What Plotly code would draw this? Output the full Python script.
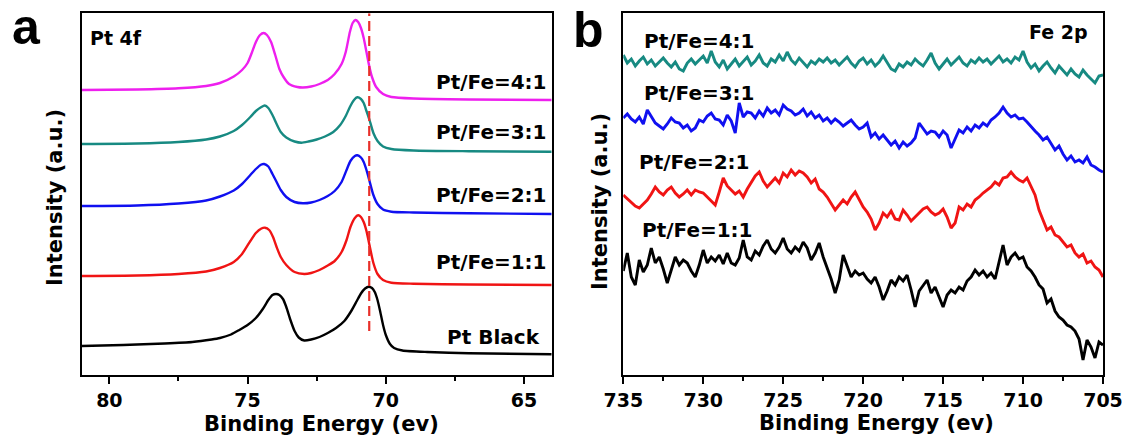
import plotly.graph_objects as go

W, H = 1127, 440

# ---------------- Panel a: Pt 4f spectra (binding energy in eV, stacked intensity in a.u.)
PT44_EV = [81.0, 79.0, 77.5, 76.5, 76.0, 75.5, 75.2, 75.0, 74.85, 74.7, 74.55, 74.42, 74.3, 74.15, 74.0,
           73.85, 73.7, 73.5, 73.2, 73.0, 72.7, 72.4, 72.1, 71.85, 71.6, 71.45, 71.3, 71.2, 71.1, 71.0,
           70.9, 70.8, 70.7, 70.6, 70.5, 70.35, 70.1, 69.8, 69.0, 67.0, 64.0]
PT44_I = [285, 285.5, 286.7, 289, 292, 298.5, 305, 312, 322, 333, 340, 342, 340, 333, 320,
          306, 298, 291, 288, 287.5, 288.5, 291, 295, 301, 311, 323, 343, 352, 355, 353,
          347, 337, 323, 309, 298, 288, 281, 278, 276.5, 275.5, 275]

PT31_EV = [81.0, 79.0, 77.5, 76.5, 76.0, 75.5, 75.2, 74.9, 74.7, 74.5, 74.38, 74.25, 74.1, 73.95, 73.8,
           73.6, 73.3, 73.05, 72.8, 72.5, 72.2, 71.9, 71.65, 71.45, 71.3, 71.15, 71.03, 70.9, 70.8, 70.7,
           70.6, 70.45, 70.3, 70.1, 69.8, 69.0, 67.0, 64.0]
PT31_I = [231, 231.5, 233, 235.5, 238.5, 244, 250, 258, 264, 268, 269.5, 267, 260, 251, 243,
          237.5, 233.5, 232.3, 233.5, 235.5, 238.5, 243, 250, 259, 268, 275, 277.7, 276, 272, 264,
          256, 242, 234, 228.5, 226, 224.5, 223.8, 223.3]

PT21_EV = [81.0, 79.0, 77.5, 76.5, 76.0, 75.5, 75.2, 74.9, 74.7, 74.5, 74.4, 74.25, 74.1, 73.95, 73.8,
           73.6, 73.3, 73.0, 72.7, 72.4, 72.1, 71.85, 71.6, 71.42, 71.28, 71.12, 71.03, 70.9, 70.8, 70.7,
           70.6, 70.45, 70.3, 70.1, 69.8, 69.0, 67.0, 64.0]
PT21_I = [169, 169.5, 171.5, 174.5, 178.5, 184.5, 191, 200, 206, 210.5, 211, 208.5, 201, 193, 185,
          178, 173, 171.7, 172.5, 175, 179, 184, 193, 205, 214, 219, 219.7, 217.5, 213, 205,
          195, 180, 171, 165.5, 163.3, 162.5, 161.7, 161]

PT11_EV = [81.0, 79.0, 77.5, 76.5, 76.0, 75.5, 75.2, 74.9, 74.7, 74.5, 74.37, 74.22, 74.08, 73.95, 73.8,
           73.6, 73.3, 72.95, 72.7, 72.4, 72.1, 71.85, 71.6, 71.42, 71.28, 71.12, 71.0, 70.9, 70.8, 70.7,
           70.6, 70.45, 70.3, 70.1, 69.8, 69.0, 67.0, 64.0]
PT11_I = [99, 99.5, 101, 103.5, 107, 113, 121, 134, 142, 146.5, 147.3, 145, 138, 128, 118,
          110, 103, 101, 102, 105, 109.5, 114, 123, 135, 148, 157, 159.7, 158, 153, 144,
          131, 112, 101, 95, 92.3, 91.3, 90.5, 90]

PTB_EV = [81.0, 79.5, 78.0, 77.0, 76.3, 76.0, 75.6, 75.3, 75.0, 74.7, 74.45, 74.25, 74.1, 73.97, 73.85,
          73.72, 73.6, 73.45, 73.3, 73.15, 72.95, 72.7, 72.4, 72.1, 71.8, 71.5, 71.25, 71.05, 70.9, 70.75,
          70.62, 70.5, 70.4, 70.3, 70.2, 70.1, 70.0, 69.85, 69.7, 69.4, 68.5, 67.0, 64.0]
PTB_I = [29, 30, 31.5, 33, 35.5, 37, 40.5, 45, 50, 57, 66, 75, 80, 81, 80,
         76, 68, 55, 44, 37.5, 34.5, 35.5, 38, 42, 47, 54, 64, 74, 81.5, 86.5,
         88.3, 87, 83, 75, 63, 50, 40, 31, 27, 24.5, 23, 21.8, 20.7]

PT_REF_EV = 70.6  # metallic Pt 4f7/2 reference position

# ---------------- Panel b: Fe 2p spectra, 0.25 eV steps from 735 to 705 eV
FE_EV = [735 - 0.25 * i for i in range(121)]

FE41_I = [320, 312, 316, 309, 314, 318, 311, 315, 309, 313,
          317, 312, 308, 313, 306, 304, 312, 316, 311, 315,
          319, 312, 324, 313, 308, 315, 306, 311, 316, 309,
          314, 318, 310, 314, 320, 312, 309, 316, 313, 320,
          314, 323, 315, 311, 317, 312, 308, 314, 311, 316,
          313, 317, 312, 315, 310, 314, 318, 312, 308, 314,
          317, 311, 315, 309, 313, 319, 312, 306, 304, 311,
          308, 313, 310, 316, 312, 309, 315, 322, 312, 306,
          311, 316, 310, 314, 318, 312, 309, 315, 312, 317,
          313, 316, 311, 315, 319, 313, 316, 312, 318, 315,
          324, 313, 307, 311, 304, 309, 313, 307, 302, 309,
          304, 300, 306, 301, 298, 305, 300, 296, 292, 299,
          300]

FE31_I = [257, 261, 256, 253, 258, 251, 265, 258, 252, 249,
          246, 251, 257, 253, 252, 247, 250, 244, 247, 255,
          253, 259, 262, 256, 255, 250, 260, 254, 242, 272,
          258, 263, 262, 257, 264, 259, 267, 262, 265, 260,
          270, 266, 264, 260, 262, 266, 259, 263, 257, 260,
          254, 257, 252, 256, 253, 249, 252, 255, 250, 246,
          248, 252, 238, 242, 236, 240, 235, 230, 234, 227,
          233, 229, 232, 237, 252, 246, 241, 244, 243, 238,
          244, 240, 227, 236, 245, 242, 248, 244, 250, 247,
          252, 249, 255, 258, 262, 268, 262, 258, 260, 256,
          257, 253, 248, 244, 240, 235, 238, 231, 225, 229,
          221, 215, 219, 213, 215, 212, 218, 210, 208, 205,
          203]

FE21_I = [180, 176, 173, 169, 167, 171, 175, 181, 188, 183,
          180, 185, 188, 182, 178, 181, 185, 180, 185, 183,
          182, 178, 174, 170, 183, 197, 189, 185, 181, 184,
          178, 186, 192, 199, 203, 194, 188, 193, 197, 192,
          202, 198, 205, 200, 204, 202, 198, 192, 196, 186,
          183, 178, 172, 165, 170, 175, 171, 178, 183, 176,
          168, 163, 156, 145, 152, 162, 158, 164, 156, 155,
          165, 160, 154, 158, 162, 166, 168, 163, 160, 162,
          166, 158, 147, 152, 168, 165, 171, 168, 175, 178,
          182, 185, 188, 193, 190, 197, 198, 203, 198, 195,
          193, 197, 188, 180, 165, 155, 145, 148, 140, 138,
          133, 128, 130, 122, 118, 121, 112, 114, 108, 105,
          98]

FE11_I = [104, 122, 98, 90, 115, 103, 110, 127, 112, 118,
          106, 92, 105, 118, 110, 115, 112, 104, 98, 110,
          125, 112, 118, 114, 120, 111, 122, 112, 110, 117,
          135, 118, 115, 124, 120, 129, 135, 126, 122, 128,
          137, 126, 122, 128, 124, 133, 127, 115, 122, 132,
          118, 108, 96, 82, 95, 120, 108, 98, 104, 100,
          102, 96, 92, 98, 88, 75, 84, 95, 90, 98,
          94, 100, 85, 68, 84, 90, 95, 82, 88, 78,
          68, 80, 85, 82, 88, 85, 94, 98, 105, 100,
          104, 98, 102, 96, 112, 130, 110, 118, 122, 116,
          118, 108, 104, 98, 90, 86, 72, 76, 64, 58,
          55, 50, 48, 44, 36, 15, 35, 28, 17, 33,
          30]

LABELS = ["Pt/Fe=4:1", "Pt/Fe=3:1", "Pt/Fe=2:1", "Pt/Fe=1:1", "Pt Black"]
COLORS = ["#ee1fee", "#178a82", "#1010f0", "#f01414", "#000000"]

Y_TOP = 361.7
FONT = "DejaVu Sans"

fig = go.Figure()

pt_series = [(PT44_EV, PT44_I), (PT31_EV, PT31_I), (PT21_EV, PT21_I), (PT11_EV, PT11_I), (PTB_EV, PTB_I)]
for (ev, inten), name, col in zip(pt_series, LABELS, COLORS):
    fig.add_trace(go.Scatter(x=ev, y=inten, mode="lines", name=name, xaxis="x", yaxis="y",
                             line=dict(color=col, width=2.4, shape="spline", smoothing=0.6)))

fe_series = [FE41_I, FE31_I, FE21_I, FE11_I]
fe_colors = ["#178a82", "#1010f0", "#f01414", "#000000"]
for inten, name, col in zip(fe_series, LABELS[:4], fe_colors):
    fig.add_trace(go.Scatter(x=FE_EV, y=inten, mode="lines", name=name, xaxis="x2", yaxis="y2",
                             line=dict(color=col, width=2.9)))

# dashed reference line at the Pt black 4f7/2 peak
fig.add_shape(type="line", xref="x", yref="y", x0=PT_REF_EV, x1=PT_REF_EV, y0=44, y1=Y_TOP,
              line=dict(color="#e8302a", width=2.2, dash="10px,5px"))

bold = dict(family=FONT, size=19, color="black", weight="bold")

common_x = dict(showline=True, linecolor="black", linewidth=2, mirror=True, showgrid=False,
                zeroline=False, ticks="outside", ticklen=7, tickwidth=2, tickcolor="black",
                tickfont=bold, dtick=5, automargin=False)
common_y = dict(showline=True, linecolor="black", linewidth=2, mirror=True, showgrid=False,
                zeroline=False, showticklabels=False, ticks="", range=[0, Y_TOP], automargin=False)

fig.update_layout(
    width=W, height=H,
    margin=dict(l=0, r=0, t=0, b=0, pad=0, autoexpand=False),
    paper_bgcolor="white", plot_bgcolor="white",
    showlegend=False,
    xaxis=dict(domain=[81.7 / W, 551.7 / W], range=[81, 64], anchor="y",
               tick0=80, minor=dict(dtick=2.5, tick0=80, ticks="outside", ticklen=4, tickwidth=2,
                                    tickcolor="black"), **common_x),
    yaxis=dict(domain=[1 - 375 / H, 1 - 13.3 / H], anchor="x", **common_y),
    xaxis2=dict(domain=[623.3 / W, 1103 / W], range=[735, 705], anchor="y2",
                tick0=735, minor=dict(dtick=2.5, tick0=735, ticks="outside", ticklen=4, tickwidth=2,
                                      tickcolor="black"), **common_x),
    yaxis2=dict(domain=[1 - 375 / H, 1 - 13.3 / H], anchor="x2", **common_y),
)


def px(x, y):
    return x / W, 1 - y / H


ann = []


def add_text(text, x, y, size, xanchor="center", angle=0, family=FONT):
    ax, ay = px(x, y)
    ann.append(dict(text=text, x=ax, y=ay, xref="paper", yref="paper", showarrow=False,
                    xanchor=xanchor, yanchor="middle", textangle=angle,
                    font=dict(family=family, size=size, color="black", weight="bold")))


# panel letters
add_text("a", 10, 27, 50, xanchor="left", family="Liberation Sans Narrow, Liberation Sans, Arial")
add_text("b", 571, 30, 50, xanchor="left", family="Liberation Sans Narrow, Liberation Sans, Arial")

# axis titles
add_text("Binding Energy (ev)", 321.5, 424, 21)
add_text("Binding Energy (ev)", 876, 423, 21)
add_text("Intensity (a.u.)", 55, 198, 21, angle=-90)
add_text("Intensity (a.u.)", 600, 202, 21, angle=-90)

# panel a labels
add_text("Pt 4f", 88, 38.3, 19, xanchor="left")
for lab, y in zip(LABELS[:4], [81.7, 131.7, 195, 261.7]):
    add_text(lab, 549, y, 20, xanchor="right")
add_text("Pt Black", 542, 337.3, 20, xanchor="right")

# panel b labels
add_text("Fe 2p", 1090, 31.7, 19, xanchor="right")
for lab, x, y in zip(LABELS[:4], [642, 642, 637, 640], [40.7, 93.3, 161.7, 230]):
    add_text(lab, x, y, 20, xanchor="left")

fig.update_layout(annotations=ann)

fig.write_html("out.html")
